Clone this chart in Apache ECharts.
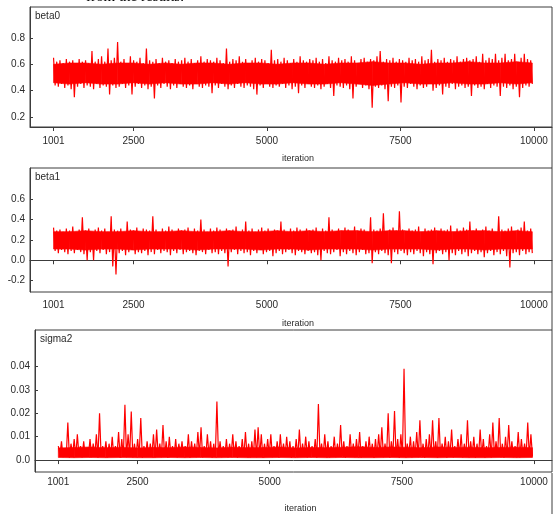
<!DOCTYPE html>
<html>
<head>
<meta charset="utf-8">
<script src="https://cdn.jsdelivr.net/npm/echarts@6/dist/echarts.min.js"></script>
<style>
html,body{margin:0;padding:0;background:#fff;}
#chart{width:553px;height:514px;}
</style>
</head>
<body>
<div id="chart"></div>
<script>
// Iteration ticks shown on every x axis
const xTicks = [1001, 2500, 5000, 7500, 10000];
const iterStart = 1001;   // first kept iteration
const iterHalfBin = 30;   // trace read as high/low pairs every 30 iterations
const coreStep = 299;     // dense core of the trace read every 299 iterations

// Panel names
const panelNames = ['beta0', 'beta1', 'sigma2'];

// Y tick labels per panel
const yTicksBeta0 = [0.2, 0.4, 0.6, 0.8];
const yTicksBeta1 = [-0.2, 0.0, 0.2, 0.4, 0.6];
const yTicksSigma2 = [0.0, 0.01, 0.02, 0.03, 0.04];

// Trace: alternating upper / lower excursions per 60-iteration bin
const beta0High = [
0.65,0.62,0.63,0.61,0.64,0.62,0.63,0.60,0.64,0.62,
0.63,0.61,0.70,0.62,0.64,0.66,0.62,0.72,0.63,0.65,
0.77,0.62,0.64,0.61,0.66,0.63,0.62,0.65,0.61,0.72,
0.63,0.62,0.64,0.61,0.65,0.62,0.63,0.61,0.64,0.62,
0.63,0.65,0.62,0.64,0.61,0.63,0.66,0.62,0.64,0.63,
0.62,0.65,0.63,0.61,0.72,0.62,0.64,0.63,0.66,0.62,
0.64,0.61,0.63,0.65,0.62,0.64,0.63,0.61,0.71,0.63,
0.64,0.62,0.65,0.63,0.61,0.64,0.62,0.66,0.63,0.62,
0.64,0.63,0.65,0.62,0.64,0.61,0.66,0.63,0.62,0.65,
0.63,0.64,0.62,0.66,0.63,0.61,0.64,0.65,0.62,0.64,
0.63,0.66,0.70,0.62,0.64,0.63,0.65,0.62,0.64,0.63,
0.62,0.65,0.63,0.64,0.62,0.66,0.63,0.64,0.71,0.62,
0.64,0.63,0.65,0.62,0.64,0.63,0.66,0.62,0.64,0.65,
0.63,0.64,0.66,0.62,0.68,0.63,0.65,0.64,0.68,0.63,
0.65,0.68,0.63,0.64,0.68,0.62,0.65,0.68,0.64,0.63];
const beta0Low = [
0.44,0.43,0.45,0.42,0.44,0.41,0.35,0.43,0.45,0.42,
0.44,0.43,0.41,0.45,0.42,0.44,0.43,0.37,0.44,0.42,
0.43,0.45,0.42,0.44,0.37,0.43,0.45,0.42,0.44,0.41,
0.43,0.34,0.44,0.42,0.45,0.43,0.41,0.44,0.42,0.45,
0.43,0.42,0.44,0.41,0.45,0.43,0.42,0.44,0.43,0.38,
0.44,0.42,0.45,0.43,0.41,0.44,0.42,0.45,0.43,0.42,
0.44,0.43,0.41,0.37,0.44,0.42,0.45,0.43,0.42,0.44,
0.43,0.45,0.42,0.44,0.41,0.43,0.38,0.44,0.42,0.45,
0.43,0.42,0.44,0.41,0.43,0.45,0.42,0.36,0.44,0.43,
0.42,0.44,0.41,0.34,0.43,0.45,0.42,0.44,0.41,0.27,
0.43,0.42,0.44,0.41,0.32,0.43,0.42,0.44,0.31,0.43,
0.42,0.45,0.43,0.41,0.44,0.42,0.43,0.45,0.40,0.42,
0.44,0.37,0.43,0.42,0.45,0.41,0.43,0.44,0.42,0.43,
0.36,0.44,0.42,0.43,0.41,0.45,0.42,0.44,0.43,0.36,
0.43,0.42,0.44,0.41,0.43,0.35,0.42,0.44,0.43,0.45];
const beta0CoreLow = [0.46,0.45,0.46,0.45,0.45,0.46,0.45,0.46,0.45,0.45,0.46,0.45,0.46,0.45,0.45,0.46,0.45,0.45,0.46,0.45,0.44,0.45,0.46,0.45,0.45,0.46,0.45,0.45,0.46,0.45,0.46];
const beta0CoreHigh = [0.60,0.61,0.61,0.60,0.61,0.61,0.60,0.61,0.60,0.61,0.61,0.60,0.61,0.61,0.60,0.61,0.61,0.60,0.61,0.61,0.62,0.61,0.61,0.60,0.61,0.61,0.62,0.61,0.61,0.62,0.61];

const beta1High = [
0.32,0.29,0.30,0.28,0.31,0.29,0.33,0.28,0.30,0.42,
0.29,0.31,0.28,0.30,0.32,0.29,0.31,0.28,0.43,0.30,
0.29,0.31,0.28,0.38,0.30,0.29,0.32,0.28,0.31,0.30,
0.29,0.43,0.30,0.28,0.31,0.29,0.33,0.30,0.28,0.31,
0.29,0.30,0.32,0.28,0.31,0.29,0.40,0.30,0.28,0.31,
0.29,0.32,0.30,0.28,0.31,0.29,0.30,0.33,0.28,0.30,
0.38,0.29,0.31,0.28,0.30,0.32,0.29,0.31,0.28,0.30,
0.29,0.38,0.30,0.28,0.31,0.29,0.32,0.30,0.28,0.31,
0.29,0.30,0.32,0.28,0.31,0.29,0.42,0.30,0.28,0.31,
0.29,0.32,0.30,0.28,0.33,0.29,0.31,0.30,0.28,0.42,
0.30,0.29,0.31,0.46,0.28,0.30,0.32,0.29,0.48,0.30,
0.28,0.31,0.29,0.30,0.33,0.28,0.31,0.29,0.30,0.32,
0.28,0.31,0.29,0.30,0.34,0.28,0.31,0.29,0.32,0.30,
0.38,0.29,0.31,0.28,0.30,0.33,0.29,0.31,0.28,0.43,
0.30,0.29,0.31,0.33,0.28,0.30,0.32,0.38,0.29,0.31];
const beta1Low = [
0.09,0.07,0.10,0.08,0.06,0.09,0.07,0.10,0.08,0.06,
0.00,0.08,0.00,0.09,0.07,0.10,0.06,0.08,-0.06,-0.14,
0.07,0.09,0.05,0.08,0.10,0.06,0.08,0.07,0.09,0.05,
0.08,0.06,0.10,0.07,0.09,0.08,0.05,0.09,0.07,0.10,
0.06,0.08,0.09,0.07,0.05,0.09,0.08,0.06,0.10,0.07,
0.08,0.06,0.09,0.07,-0.06,0.08,0.10,0.06,0.09,0.07,
0.08,0.05,0.09,0.07,0.10,0.06,0.08,0.09,0.04,0.07,
0.09,0.06,0.08,0.10,0.07,0.05,0.09,0.08,0.06,0.09,
0.07,0.08,0.05,0.00,0.09,0.07,0.06,0.08,0.10,0.04,
0.08,0.06,0.09,0.07,0.05,0.08,0.10,0.06,0.07,-0.03,
0.08,0.06,0.09,0.07,0.05,-0.03,0.08,0.06,0.09,0.07,
0.05,0.08,0.06,0.09,0.07,0.04,0.08,0.06,-0.04,0.07,
0.09,0.06,0.08,0.00,0.07,0.05,0.09,0.06,0.08,0.04,
0.07,0.09,0.06,0.08,0.03,0.07,0.09,0.05,0.08,0.06,
0.09,0.04,-0.07,0.07,0.08,0.05,0.09,0.06,0.08,0.07];
const beta1CoreLow = [0.11,0.11,0.10,0.11,0.11,0.10,0.11,0.11,0.11,0.10,0.11,0.11,0.11,0.10,0.11,0.11,0.10,0.11,0.11,0.11,0.10,0.11,0.11,0.11,0.10,0.11,0.11,0.10,0.11,0.11,0.11];
const beta1CoreHigh = [0.28,0.28,0.29,0.28,0.28,0.29,0.28,0.28,0.29,0.28,0.28,0.29,0.28,0.28,0.29,0.28,0.29,0.28,0.29,0.29,0.28,0.29,0.29,0.28,0.29,0.28,0.29,0.29,0.28,0.29,0.28];

const sigma2High = [
0.006,0.008,0.005,0.016,0.007,0.009,0.011,0.006,0.008,0.005,
0.009,0.007,0.011,0.020,0.006,0.008,0.007,0.010,0.006,0.012,
0.009,0.0236,0.011,0.0208,0.007,0.009,0.018,0.006,0.008,0.007,
0.011,0.013,0.007,0.015,0.008,0.010,0.006,0.009,0.007,0.008,
0.006,0.011,0.008,0.007,0.012,0.014,0.006,0.011,0.008,0.007,
0.025,0.008,0.006,0.009,0.007,0.011,0.008,0.006,0.009,0.012,
0.007,0.008,0.013,0.014,0.011,0.007,0.009,0.011,0.006,0.008,
0.011,0.007,0.010,0.008,0.006,0.009,0.013,0.007,0.010,0.008,
0.006,0.009,0.024,0.007,0.011,0.008,0.006,0.010,0.007,0.015,
0.008,0.006,0.011,0.007,0.009,0.012,0.006,0.008,0.010,0.007,
0.009,0.011,0.014,0.007,0.020,0.008,0.021,0.009,0.011,0.039,
0.007,0.010,0.008,0.012,0.017,0.007,0.009,0.011,0.017,0.008,
0.018,0.007,0.010,0.008,0.013,0.006,0.009,0.011,0.007,0.017,
0.008,0.010,0.007,0.013,0.009,0.006,0.011,0.016,0.008,0.018,
0.007,0.010,0.015,0.008,0.006,0.012,0.009,0.007,0.016,0.011];
const sigma2Low = [
0.0020,0.0012,0.0016,0.0010,0.0018,0.0013,0.0021,0.0011,0.0015,0.0019,
0.0012,0.0017,0.0010,0.0014,0.0020,0.0011,0.0016,0.0013,0.0019,0.0010,
0.0015,0.0012,0.0018,0.0011,0.0014,0.0020,0.0010,0.0016,0.0013,0.0017,
0.0011,0.0019,0.0012,0.0015,0.0010,0.0018,0.0014,0.0011,0.0020,0.0013,
0.0016,0.0010,0.0017,0.0012,0.0019,0.0011,0.0015,0.0020,0.0010,0.0014,
0.0018,0.0012,0.0016,0.0011,0.0020,0.0013,0.0010,0.0017,0.0014,0.0019,
0.0011,0.0015,0.0012,0.0018,0.0010,0.0016,0.0021,0.0012,0.0014,0.0011,
0.0019,0.0013,0.0016,0.0010,0.0018,0.0012,0.0015,0.0020,0.0011,0.0014,
0.0017,0.0010,0.0019,0.0013,0.0016,0.0011,0.0020,0.0012,0.0015,0.0018,
0.0010,0.0014,0.0017,0.0012,0.0019,0.0011,0.0016,0.0013,0.0020,0.0010,
0.0015,0.0018,0.0012,0.0016,0.0011,0.0019,0.0013,0.0010,0.0017,0.0014,
0.0020,0.0011,0.0015,0.0012,0.0018,0.0010,0.0016,0.0013,0.0019,0.0011,
0.0014,0.0017,0.0010,0.0020,0.0012,0.0015,0.0018,0.0011,0.0016,0.0013,
0.0019,0.0010,0.0014,0.0017,0.0012,0.0020,0.0011,0.0015,0.0018,0.0013,
0.0010,0.0016,0.0019,0.0012,0.0014,0.0011,0.0017,0.0020,0.0013,0.0015];
const sigma2CoreLow = [0.0011,0.0010,0.0011,0.0010,0.0011,0.0010,0.0010,0.0011,0.0010,0.0011,0.0010,0.0011,0.0010,0.0010,0.0011,0.0010,0.0011,0.0010,0.0011,0.0010,0.0010,0.0011,0.0010,0.0011,0.0010,0.0011,0.0010,0.0010,0.0011,0.0010,0.0011];
const sigma2CoreHigh = [0.0052,0.0054,0.0056,0.0053,0.0055,0.0052,0.0054,0.0053,0.0056,0.0054,0.0052,0.0055,0.0053,0.0054,0.0056,0.0052,0.0054,0.0053,0.0055,0.0057,0.0054,0.0056,0.0055,0.0053,0.0056,0.0054,0.0055,0.0053,0.0054,0.0055,0.0053];

function trace(high, low) {
  const out = [];
  for (let k = 0; k < high.length; k++) {
    const it = iterStart + 2 * iterHalfBin * k;
    out.push([it, high[k]]);
    out.push([it + iterHalfBin, low[k]]);
  }
  return out;
}
function core(low, high) {
  return low.map((v, j) => [iterStart + j * coreStep, v, high[j]]);
}

const FONT = '"Liberation Sans", Arial, sans-serif';
const TXT = '#2a2a2a';
const FRAME = '#3c3c3c';
const RED = '#ff0000';

const grids = [
  {left: 30, top: 7, width: 522, height: 120},
  {left: 30, top: 168, width: 522, height: 124},
  {left: 35, top: 330, width: 517, height: 143}
];
const yRanges = [[0.124, 1.035], [-0.311, 0.904], [-0.0051, 0.0556]];
const yTickSets = [yTicksBeta0, yTicksBeta1, yTicksSigma2];
const xLabelMargins = [9, 8, 5];
const nameGaps = [27, 27, 32];
const yFmt = [
  v => v.toFixed(1),
  v => v.toFixed(1),
  v => (v === 0 ? '0.0' : v.toFixed(2))
];
const traces = [
  trace(beta0High, beta0Low),
  trace(beta1High, beta1Low),
  trace(sigma2High, sigma2Low)
];
const cores = [
  core(beta0CoreLow, beta0CoreHigh),
  core(beta1CoreLow, beta1CoreHigh),
  core(sigma2CoreLow, sigma2CoreHigh)
];

const series = [];
cores.forEach((c, i) => {
  series.push({
    type: 'custom', xAxisIndex: i, yAxisIndex: i, data: c, silent: true, z: 1,
    encode: {x: 0, y: [1, 2]},
    renderItem: (params, api) => {
      const j = params.dataIndex;
      if (j >= c.length - 1) return null;
      const a = c[j], b = c[j + 1];
      const pts = [api.coord([a[0], a[1]]), api.coord([b[0], b[1]]), api.coord([b[0], b[2]]), api.coord([a[0], a[2]])];
      return {type: 'polygon', shape: {points: pts}, style: {fill: RED, stroke: RED, lineWidth: 0.6}};
    }
  });
});
traces.forEach((d, i) => {
  series.push({
    type: 'line', xAxisIndex: i, yAxisIndex: i, data: d,
    showSymbol: false, symbol: 'none', sampling: null,
    lineStyle: {color: RED, width: 1.2}, z: 2
  });
});

const option = {
  animation: false,
  backgroundColor: '#ffffff',
  grid: grids.map(g => Object.assign({show: true, borderColor: FRAME, borderWidth: 1, backgroundColor: 'transparent'}, g)),
  xAxis: grids.map((g, i) => ({
    type: 'value', gridIndex: i, min: 560, max: 10340,
    name: 'iteration', nameLocation: 'middle', nameGap: nameGaps[i],
    nameTextStyle: {fontFamily: FONT, fontSize: 9, color: TXT, padding: [0, 0, 0, 14]},
    axisLine: {show: true, lineStyle: {color: FRAME, width: 1}},
    axisTick: {show: true, length: 4, customValues: xTicks, lineStyle: {color: FRAME}},
    axisLabel: {customValues: xTicks, formatter: v => String(v), margin: xLabelMargins[i], fontFamily: FONT, fontSize: 10, color: TXT},
    splitLine: {show: false}
  })),
  yAxis: grids.map((g, i) => ({
    type: 'value', gridIndex: i, min: yRanges[i][0], max: yRanges[i][1],
    axisLine: {show: true, lineStyle: {color: FRAME, width: 1}},
    axisTick: {show: true, inside: true, length: 3, customValues: yTickSets[i], lineStyle: {color: FRAME}},
    axisLabel: {customValues: yTickSets[i], formatter: yFmt[i], margin: 5, fontFamily: FONT, fontSize: 10, color: TXT},
    splitLine: {show: false}
  })),
  series: series,
  graphic: [
    {type: 'text', left: 35, top: 11, style: {text: panelNames[0], font: '10px ' + FONT, fill: TXT}},
    {type: 'text', left: 35, top: 172, style: {text: panelNames[1], font: '10px ' + FONT, fill: TXT}},
    {type: 'text', left: 40, top: 334, style: {text: panelNames[2], font: '10px ' + FONT, fill: TXT}},
    {type: 'line', shape: {x1: 552, y1: 127, x2: 552, y2: 168}, style: {stroke: FRAME, lineWidth: 1}},
    {type: 'line', shape: {x1: 552, y1: 292, x2: 552, y2: 330}, style: {stroke: FRAME, lineWidth: 1}},
    {type: 'line', shape: {x1: 552, y1: 473, x2: 552, y2: 514}, style: {stroke: FRAME, lineWidth: 1}},
    {type: 'text', x: 86, y: -10, style: {text: 'from the results.', font: '15px "Liberation Serif", serif', fill: '#000'}}
  ]
};

const chart = echarts.init(document.getElementById('chart'), null, {renderer: 'canvas'});
chart.setOption(option);
</script>
</body>
</html>
